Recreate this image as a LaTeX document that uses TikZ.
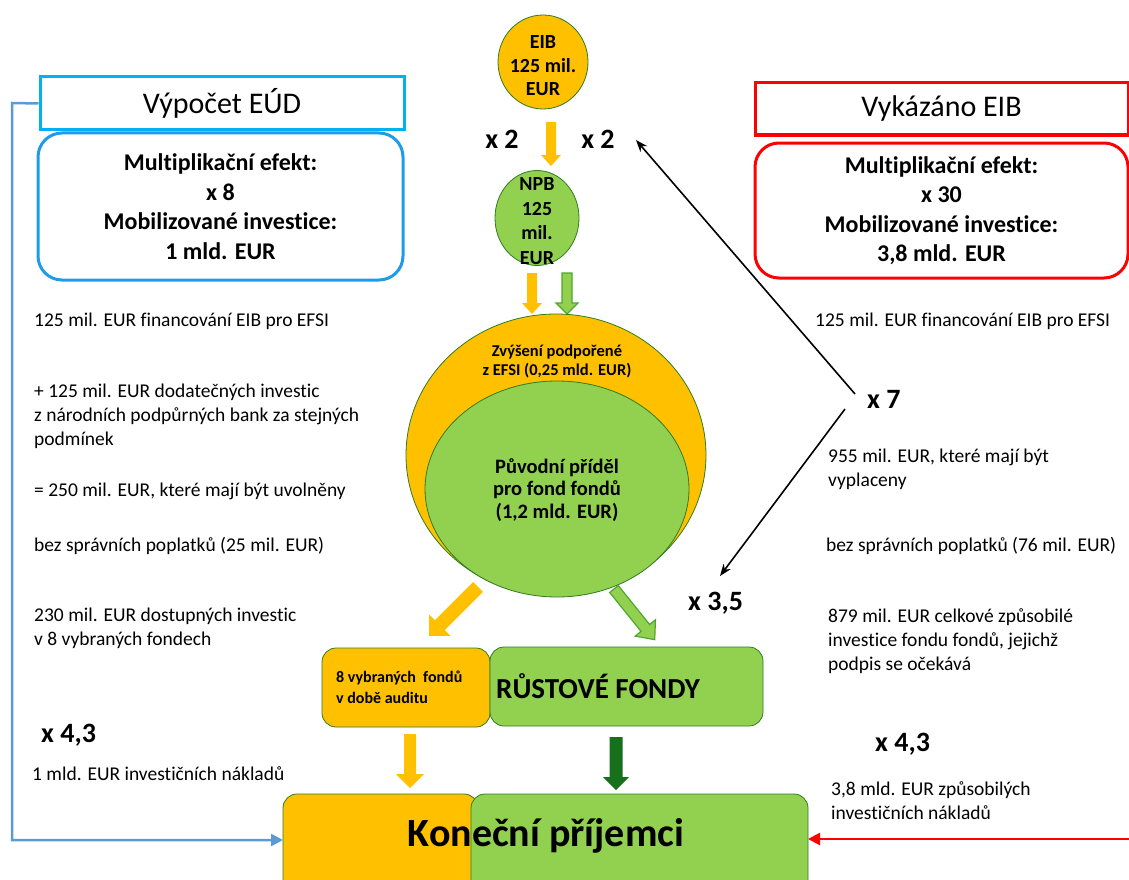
\documentclass[tikz,border=0pt]{standalone}
\usepackage{fontspec}
\setmainfont{Carlito}[Ligatures=NoCommon]
\usetikzlibrary{arrows.meta,shapes.geometric}
\definecolor{orng}{HTML}{FFC000}
\definecolor{grn}{HTML}{92D050}
\definecolor{grnline}{HTML}{2F7D1E}
\definecolor{grnmid}{HTML}{4EA72E}
\definecolor{dkgrn}{HTML}{16701C}
\definecolor{cyanb}{HTML}{00B0F0}
\definecolor{blueb}{HTML}{1E9BEA}
\definecolor{bline}{HTML}{5B9BD5}
\definecolor{redb}{HTML}{FF0000}
\begin{document}
\begin{tikzpicture}[x=1pt,y=-1pt,
  body/.style={font=\fontsize{19.5}{24}\selectfont, anchor=west, align=left, inner sep=0pt},
  mult/.style={font=\fontsize{28}{32}\selectfont\bfseries, inner sep=0pt},
  circ/.style={ellipse, draw=grnline, line width=0.8pt, inner sep=0pt},
  ctext/.style={font=\fontsize{20}{23.5}\selectfont\bfseries, align=center, inner sep=0pt},
  hdr/.style={draw, line width=3pt, font=\fontsize{30}{36}\selectfont, inner sep=0pt},
  sumbox/.style={draw, line width=3pt, rounded corners=24pt, font=\fontsize{24}{29.5}\selectfont\bfseries, align=center, inner sep=0pt},
  fundbox/.style={draw=grnline, line width=0.8pt, rounded corners=14pt, inner sep=0pt},
  orA/.style={fill=orng},
  grO/.style={fill=grn, draw=grnmid, line width=1.2pt},
  dgA/.style={fill=dkgrn},
  pics/blk/.style args={#1/#2/#3/#4/#5}{code={\path[#5] (0,-#2/2) -- (#1-#4,-#2/2) -- (#1-#4,-#3/2) -- (#1,0) -- (#1-#4,#3/2) -- (#1-#4,#2/2) -- (0,#2/2) -- cycle;}},
  thinarrow/.style={draw=black, line width=1.6pt, -{Stealth[length=12pt,width=9pt]}}
]
\useasboundingbox (0,0) rectangle (1129,880);
\clip (0,0) rectangle (1129,880);

% top circles
\node[circ, fill=orng, minimum width=90pt, minimum height=94pt] (eib) at (543,62) {};
\node[ctext] (eibt) at (543,66) {EIB\\125 mil.\\EUR};
\node[circ, fill=grn, minimum width=84pt, minimum height=95pt] (npb) at (537,218) {};
\node[ctext, font=\fontsize{20}{24.7}\selectfont\bfseries] (npbt) at (537,221) {NPB\\125\\mil.\\EUR};
\pic[rotate=-90] at (551,122) {blk=44/10/20/11/orA};
\node[mult] (x2a) at (502,139) {x 2};
\node[mult] (x2b) at (598,139) {x 2};

% small arrows to big ellipse
\pic[rotate=-90] at (532,273) {blk=41/10/20/11/orA};
\pic[rotate=-90] at (567,273) {blk=41/10/22/11/grO};

% big ellipses
\node[circ, fill=orng, minimum width=300pt, minimum height=282pt] (outer) at (556,455) {};
\node[circ, fill=grn, minimum width=264pt, minimum height=216pt] (inner) at (557,489) {};
\node[ctext, font=\fontsize{16.5}{19}\selectfont\bfseries] (zvys) at (557,361) {Zvýšení podpořené\\z EFSI (0,25 mld. EUR)};
\node[ctext, font=\fontsize{20.5}{22.5}\selectfont\bfseries] (puv) at (557,490) {Původní příděl\\pro fond fondů\\(1,2 mld. EUR)};

% diagonal arrows
\pic[rotate=-135] at (478,587) {blk=69/14/30/15/orA};
\pic[rotate=-51.2] at (614,589) {blk=65/11/26/15/grO};

% fund boxes
\node[fundbox, fill=orng, minimum width=168pt, minimum height=79pt] (f8) at (406,687.5) {};
\node[fundbox, fill=grn, minimum width=273pt, minimum height=79pt] (rust) at (626.5,686.5) {};
\node[font=\fontsize{16}{21}\selectfont\bfseries, align=left, anchor=west, inner sep=0pt] (f8t) at (336,687) {8 vybraných\ \ fondů\\v době auditu};
\node[font=\fontsize{29}{34}\selectfont\bfseries, anchor=west, inner sep=0pt] (rustt) at (496,686) {RŮSTOVÉ FONDY};

% down arrows
\pic[rotate=-90] at (410,734) {blk=54/12/28/14/orA};
\pic[rotate=-90] at (616,737) {blk=53/13/26/13/dgA};

% final recipients
\draw[draw=grnline, line width=0.8pt, fill=orng, rounded corners=14pt] (283,794) rectangle (478,900);
\draw[draw=grnline, line width=0.8pt, fill=grn, rounded corners=14pt] (471,794) rectangle (808,900);
\node[font=\fontsize{40}{46}\selectfont\bfseries, inner sep=0pt] (fin) at (546,836) {Koneční příjemci};
\coordinate (finL) at (283,840);
\coordinate (finR) at (808,839);

% left side
\node[hdr, draw=cyanb, minimum width=364pt, minimum height=53pt] (eud) at (222,103.5) {Výpočet EÚD};
\node[sumbox, draw=blueb, minimum width=365pt, minimum height=147pt] (eudbox) at (220.5,206.5) {Multiplikační efekt:\\x 8\\Mobilizované investice:\\1 mld. EUR};
\coordinate (bcorner) at (12,103);
\draw[bline, line width=2.5pt, -{Triangle[length=12pt,width=12pt]}] (eud.west) -- (bcorner) |- (finL);

\node[body] (l1) at (34,321) {125 mil. EUR financování EIB pro EFSI};
\node[body] (l2) at (34,416.5) {+ 125 mil. EUR dodatečných investic\\z národních podpůrných bank za stejných\\podmínek};
\node[body] (l3) at (34,491) {= 250 mil. EUR, které mají být uvolněny};
\node[body] (l4) at (34,546) {bez správních poplatků (25 mil. EUR)};
\node[body] (l5) at (34,628.5) {230 mil. EUR dostupných investic\\v 8 vybraných fondech};
\node[mult, anchor=west] (x43a) at (41,735) {x 4,3};
\node[body] (l6) at (32,774) {1 mld. EUR investičních nákladů};

% right side
\node[hdr, draw=redb, minimum width=373pt, minimum height=52pt] (eibh) at (941.5,109) {Vykázáno EIB};
\node[sumbox, draw=redb, minimum width=373pt, minimum height=135pt] (eibbox) at (941.5,210.5) {Multiplikační efekt:\\x 30\\Mobilizované investice:\\3,8 mld. EUR};

\node[body] (r1) at (815,321) {125 mil. EUR financování EIB pro EFSI};
\node[mult, anchor=west] (x7) at (867,399) {x 7};
\node[body] (r2) at (828,469.5) {955 mil. EUR, které mají být\\vyplaceny};
\node[body] (r3) at (826,546) {bez správních poplatků (76 mil. EUR)};
\node[mult, anchor=west] (x35) at (688,603) {x 3,5};
\node[body] (r4) at (828,641) {879 mil. EUR celkové způsobilé\\investice fondu fondů, jejichž\\podpis se očekává};
\node[mult, anchor=west] (x43b) at (875,744) {x 4,3};
\node[body] (r5) at (831,801) {3,8 mld. EUR způsobilých\\investičních nákladů};

\coordinate (s1) at (855,394);
\coordinate (t1) at (636,140);
\coordinate (s2) at (845,409);
\coordinate (t2) at (720,576);
\draw[thinarrow] (s1) -- (t1);
\draw[thinarrow] (s2) -- (t2);
\draw[redb, line width=2.5pt, -{Triangle[length=12pt,width=12pt]}] (1130,839) -- (finR);
\end{tikzpicture}
\end{document}
